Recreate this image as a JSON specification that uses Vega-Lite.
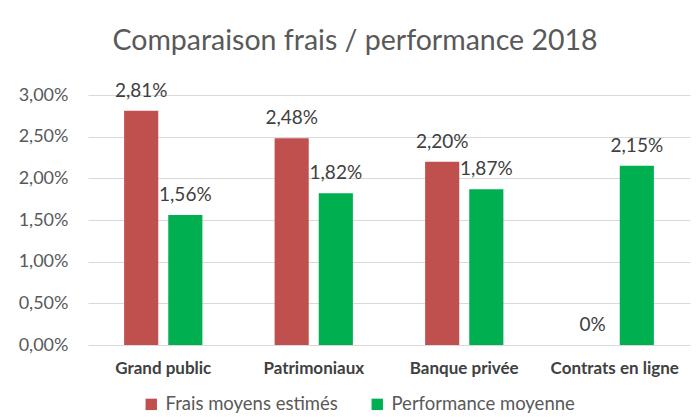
{
  "$schema": "https://vega.github.io/schema/vega-lite/v6.json",
  "width": 602,
  "height": 250,
  "autosize": {"type": "none"},
  "padding": {"left": 88, "top": 95, "right": 9, "bottom": 72},
  "background": "white",
  "config": {
    "font": "Lato",
    "view": {"stroke": null},
    "locale": {"number": {"decimal": ",", "thousands": " ", "grouping": [3], "currency": ["", " €"]}}
  },
  "title": {
    "text": "Comparaison frais / performance 2018",
    "anchor": "middle",
    "fontSize": 28.5,
    "fontWeight": "normal",
    "color": "#595959",
    "offset": 26,
    "dx": -34
  },
  "data": {
    "values": [
      {"categorie": "Grand public", "serie": "Frais moyens estimés", "valeur": 0.0281},
      {"categorie": "Grand public", "serie": "Performance moyenne", "valeur": 0.0156},
      {"categorie": "Patrimoniaux", "serie": "Frais moyens estimés", "valeur": 0.0248},
      {"categorie": "Patrimoniaux", "serie": "Performance moyenne", "valeur": 0.0182},
      {"categorie": "Banque privée", "serie": "Frais moyens estimés", "valeur": 0.0220},
      {"categorie": "Banque privée", "serie": "Performance moyenne", "valeur": 0.0187},
      {"categorie": "Contrats en ligne", "serie": "Frais moyens estimés", "valeur": 0},
      {"categorie": "Contrats en ligne", "serie": "Performance moyenne", "valeur": 0.0215}
    ]
  },
  "encoding": {
    "x": {
      "field": "categorie",
      "type": "nominal",
      "sort": null,
      "scale": {"paddingInner": 0.48, "paddingOuter": 0.24},
      "axis": {
        "title": null,
        "labelAngle": 0,
        "labelFontSize": 17,
        "labelFontWeight": "bold",
        "labelColor": "#404040",
        "labelPadding": 15,
        "labelLimit": 0,
        "ticks": false,
        "domain": false
      }
    },
    "xOffset": {
      "field": "serie",
      "type": "nominal",
      "scale": {"domain": ["Frais moyens estimés", "Performance moyenne"], "paddingInner": 0.227}
    },
    "y": {
      "field": "valeur",
      "type": "quantitative",
      "scale": {"domain": [0, 0.03], "nice": false},
      "axis": {
        "title": null,
        "format": ".2%",
        "values": [0, 0.005, 0.01, 0.015, 0.02, 0.025, 0.03],
        "labelFontSize": 18,
        "labelColor": "#595959",
        "labelPadding": 20,
        "ticks": false,
        "domain": false,
        "gridColor": "#D9D9D9",
        "gridWidth": 1
      }
    }
  },
  "layer": [
    {
      "mark": {"type": "bar"},
      "encoding": {
        "color": {
          "field": "serie",
          "type": "nominal",
          "scale": {"domain": ["Frais moyens estimés", "Performance moyenne"], "range": ["#C0504D", "#00B050"]},
          "legend": {
            "title": null,
            "orient": "none",
            "direction": "horizontal",
            "legendX": 54,
            "legendY": 300,
            "symbolType": "square",
            "symbolSize": 130,
            "symbolStrokeWidth": 0,
            "labelFontSize": 18.5,
            "labelLimit": 0,
            "labelColor": "#595959",
            "labelOffset": 5,
            "columnPadding": 30
          }
        }
      }
    },
    {
      "mark": {"type": "text", "baseline": "alphabetic", "dy": -14, "fontSize": 19, "color": "#404040"},
      "encoding": {
        "text": {
          "condition": {"test": "datum.valeur === 0", "value": "0%"},
          "field": "valeur",
          "type": "quantitative",
          "format": ".2%"
        }
      }
    }
  ]
}
